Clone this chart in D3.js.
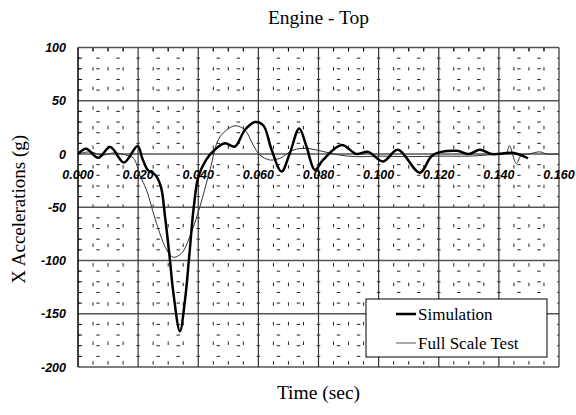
<!DOCTYPE html>
<html>
<head>
<meta charset="utf-8">
<script src="https://cdn.jsdelivr.net/npm/d3@7"></script>
<style>
  body { margin: 0; background: #fff; }
  svg { display: block; }
</style>
</head>
<body>
<div id="chart"></div>
<script>
// Engine - Top: X acceleration, simulation vs full scale test

const svgWidth = 576;
const svgHeight = 415;

// Simulation curve (time in sec, acceleration in g)
const simTime = [0.000, 0.0027, 0.0067, 0.0107, 0.0153, 0.0198, 0.0215, 0.0232, 0.0255, 0.0275,
  0.029, 0.0306, 0.0317, 0.0339, 0.0356, 0.037, 0.0385, 0.040, 0.0425, 0.0455, 0.0489,
  0.0522, 0.0555, 0.0588, 0.0616, 0.0644, 0.0677, 0.0705, 0.0736, 0.076, 0.0788, 0.0815,
  0.0877, 0.0926, 0.0965, 0.1015, 0.1064, 0.1137, 0.118, 0.126, 0.130, 0.1337, 0.1375,
  0.145, 0.1497];
const simAccel = [0, 5, -3.5, 6.5, -8, 7.5, -5, -15, -19, -30,
  -60, -100, -130, -166.5, -137, -96, -50, -22, -6, 4, 10,
  7, 22.5, 30, 27, 4, -16.5, 1, 24, 7, -15, -5.6,
  8.4, 0, 2, -7, 4, -17.5, -1, 3, 0, 4, 0,
  1, -4];

// Full scale test curve
const testTime = [0.000, 0.004, 0.008, 0.012, 0.016, 0.0185, 0.0206, 0.0228, 0.0261, 0.0295,
  0.0317, 0.0345, 0.0372, 0.0406, 0.0439, 0.0472, 0.0522, 0.0555, 0.0583, 0.0605, 0.0638,
  0.0672, 0.0716, 0.076, 0.0805, 0.087, 0.0927, 0.1004, 0.110, 0.120, 0.130, 0.138,
  0.1425, 0.1435, 0.1458, 0.1475, 0.150, 0.1536, 0.156, 0.160];
const testAccel = [0, 2, -1, 1, -1, -4, -20, -34, -65, -90,
  -97, -93, -77.5, -49, -15, 16, 26.5, 22.5, 8.4, -1, -5.6,
  -4, 3.7, 5.3, 3, -1, -2.5, -2, -2.5, -2, -2, -0.5,
  1, 8, -9, -1, 0, 2, 0, 0];

// Tick labels
const xTicks = [0, 0.02, 0.04, 0.06, 0.08, 0.10, 0.12, 0.14, 0.16];
const yTicks = [100, 50, 0, -50, -100, -150, -200];

const seriesNames = ["Simulation", "Full Scale Test"];

const margin = {top: 47.5, right: 17, bottom: 48, left: 78};

const svg = d3.select("#chart")
  .append("svg")
  .attr("width", svgWidth)
  .attr("height", svgHeight);

const x = d3.scaleLinear()
  .domain([0, 0.16])
  .range([margin.left, svgWidth - margin.right]);

const y = d3.scaleLinear()
  .domain([-200, 100])
  .range([svgHeight - margin.bottom, margin.top]);

const x0 = x.range()[0], x1 = x.range()[1];
const y0 = y.range()[1], y1 = y.range()[0];

// Minor grid: dashed lines every 0.005 sec and every 10 g
const minorX = d3.range(0, 0.16001, 0.005).filter(d => Math.abs(d / 0.02 - Math.round(d / 0.02)) > 1e-6);
const minorY = d3.range(-200, 100.001, 10).filter(d => d % 50 !== 0);

// dash spacing: three dashes per major cell across, about 20px down
const stepH = (x(0.02) - x(0)) / 3;
const stepV = 19.6;

svg.append("g")
  .selectAll("line")
  .data(minorY)
  .join("line")
    .attr("x1", x0)
    .attr("x2", x1)
    .attr("y1", d => y(d))
    .attr("y2", d => y(d))
    .attr("stroke", "#222")
    .attr("stroke-width", 1)
    .attr("stroke-dasharray", `3.5,${stepH - 3.5}`)
    .attr("stroke-dashoffset", 1.75);

svg.append("g")
  .selectAll("line")
  .data(minorX)
  .join("line")
    .attr("x1", d => x(d))
    .attr("x2", d => x(d))
    .attr("y1", y0)
    .attr("y2", y1)
    .attr("stroke", "#222")
    .attr("stroke-width", 1)
    .attr("stroke-dasharray", `3.5,${stepV - 3.5}`)
    .attr("stroke-dashoffset", 0);

// Small ticks along the left axis and top edge
svg.append("g")
  .selectAll("line")
  .data(minorY)
  .join("line")
    .attr("x1", x0)
    .attr("x2", x0 + 4)
    .attr("y1", d => y(d))
    .attr("y2", d => y(d))
    .attr("stroke", "#000");

svg.append("g")
  .selectAll("line")
  .data(minorX)
  .join("line")
    .attr("x1", d => x(d))
    .attr("x2", d => x(d))
    .attr("y1", y0)
    .attr("y2", y0 + 4)
    .attr("stroke", "#000");

// Major grid
svg.append("g")
  .selectAll("line")
  .data(yTicks)
  .join("line")
    .attr("x1", x0)
    .attr("x2", x1)
    .attr("y1", d => y(d))
    .attr("y2", d => y(d))
    .attr("stroke", d => d === 0 ? "#808080" : "#555")
    .attr("stroke-width", d => d === 0 ? 2 : 1.4);

svg.append("g")
  .selectAll("line")
  .data(xTicks)
  .join("line")
    .attr("x1", d => x(d))
    .attr("x2", d => x(d))
    .attr("y1", y0)
    .attr("y2", y1)
    .attr("stroke", d => d === 0 ? "#000" : "#333")
    .attr("stroke-width", d => d === 0 ? 1.5 : 1.2);

// Tick labels
svg.append("g")
  .selectAll("text")
  .data(yTicks)
  .join("text")
    .attr("x", x0 - 12)
    .attr("y", d => y(d) + 4.5)
    .attr("text-anchor", "end")
    .attr("font-family", "Liberation Sans, Arial, sans-serif")
    .attr("font-size", 12.5)
    .attr("font-weight", "bold")
    .attr("font-style", "italic")
    .text(d => d);

svg.append("g")
  .selectAll("text")
  .data(xTicks)
  .join("text")
    .attr("x", d => x(d))
    .attr("y", y(0) + 25)
    .attr("text-anchor", "middle")
    .attr("font-family", "Liberation Sans, Arial, sans-serif")
    .attr("font-size", 12.5)
    .attr("font-weight", "bold")
    .attr("font-style", "italic")
    .text(d => d3.format(".3f")(d));

// Curves
const line = d3.line()
  .x(d => x(d[0]))
  .y(d => y(d[1]))
  .curve(d3.curveCatmullRom.alpha(0.5));

svg.append("path")
  .datum(d3.zip(testTime, testAccel))
  .attr("fill", "none")
  .attr("stroke", "#333")
  .attr("stroke-width", 1)
  .attr("d", line);

svg.append("path")
  .datum(d3.zip(simTime, simAccel))
  .attr("fill", "none")
  .attr("stroke", "#000")
  .attr("stroke-width", 2.5)
  .attr("stroke-linejoin", "round")
  .attr("d", line);

// Titles
svg.append("text")
  .attr("x", (x0 + x1) / 2)
  .attr("y", 24)
  .attr("text-anchor", "middle")
  .attr("font-family", "Liberation Serif, Times New Roman, serif")
  .attr("font-size", 19.5)
  .text("Engine - Top");

svg.append("text")
  .attr("x", (x0 + x1) / 2)
  .attr("y", 399)
  .attr("text-anchor", "middle")
  .attr("font-family", "Liberation Serif, Times New Roman, serif")
  .attr("font-size", 19.5)
  .text("Time (sec)");

svg.append("text")
  .attr("transform", `translate(25,${(y0 + y1) / 2 + 2}) rotate(-90)`)
  .attr("text-anchor", "middle")
  .attr("font-family", "Liberation Serif, Times New Roman, serif")
  .attr("font-size", 19)
  .text("X Accelerations (g)");

// Legend
const legend = svg.append("g").attr("transform", "translate(366,299)");

legend.append("rect")
  .attr("width", 181)
  .attr("height", 58)
  .attr("fill", "#fff")
  .attr("stroke", "#000")
  .attr("stroke-width", 1);

legend.selectAll("line")
  .data(seriesNames)
  .join("line")
    .attr("x1", 30)
    .attr("x2", 50)
    .attr("y1", (d, i) => 15 + i * 29)
    .attr("y2", (d, i) => 15 + i * 29)
    .attr("stroke", (d, i) => i === 0 ? "#000" : "#555")
    .attr("stroke-width", (d, i) => i === 0 ? 2.5 : 1);

legend.selectAll("text")
  .data(seriesNames)
  .join("text")
    .attr("x", 52)
    .attr("y", (d, i) => 21 + i * 29)
    .attr("font-family", "Liberation Serif, Times New Roman, serif")
    .attr("font-size", 17)
    .text(d => d);
</script>
</body>
</html>
